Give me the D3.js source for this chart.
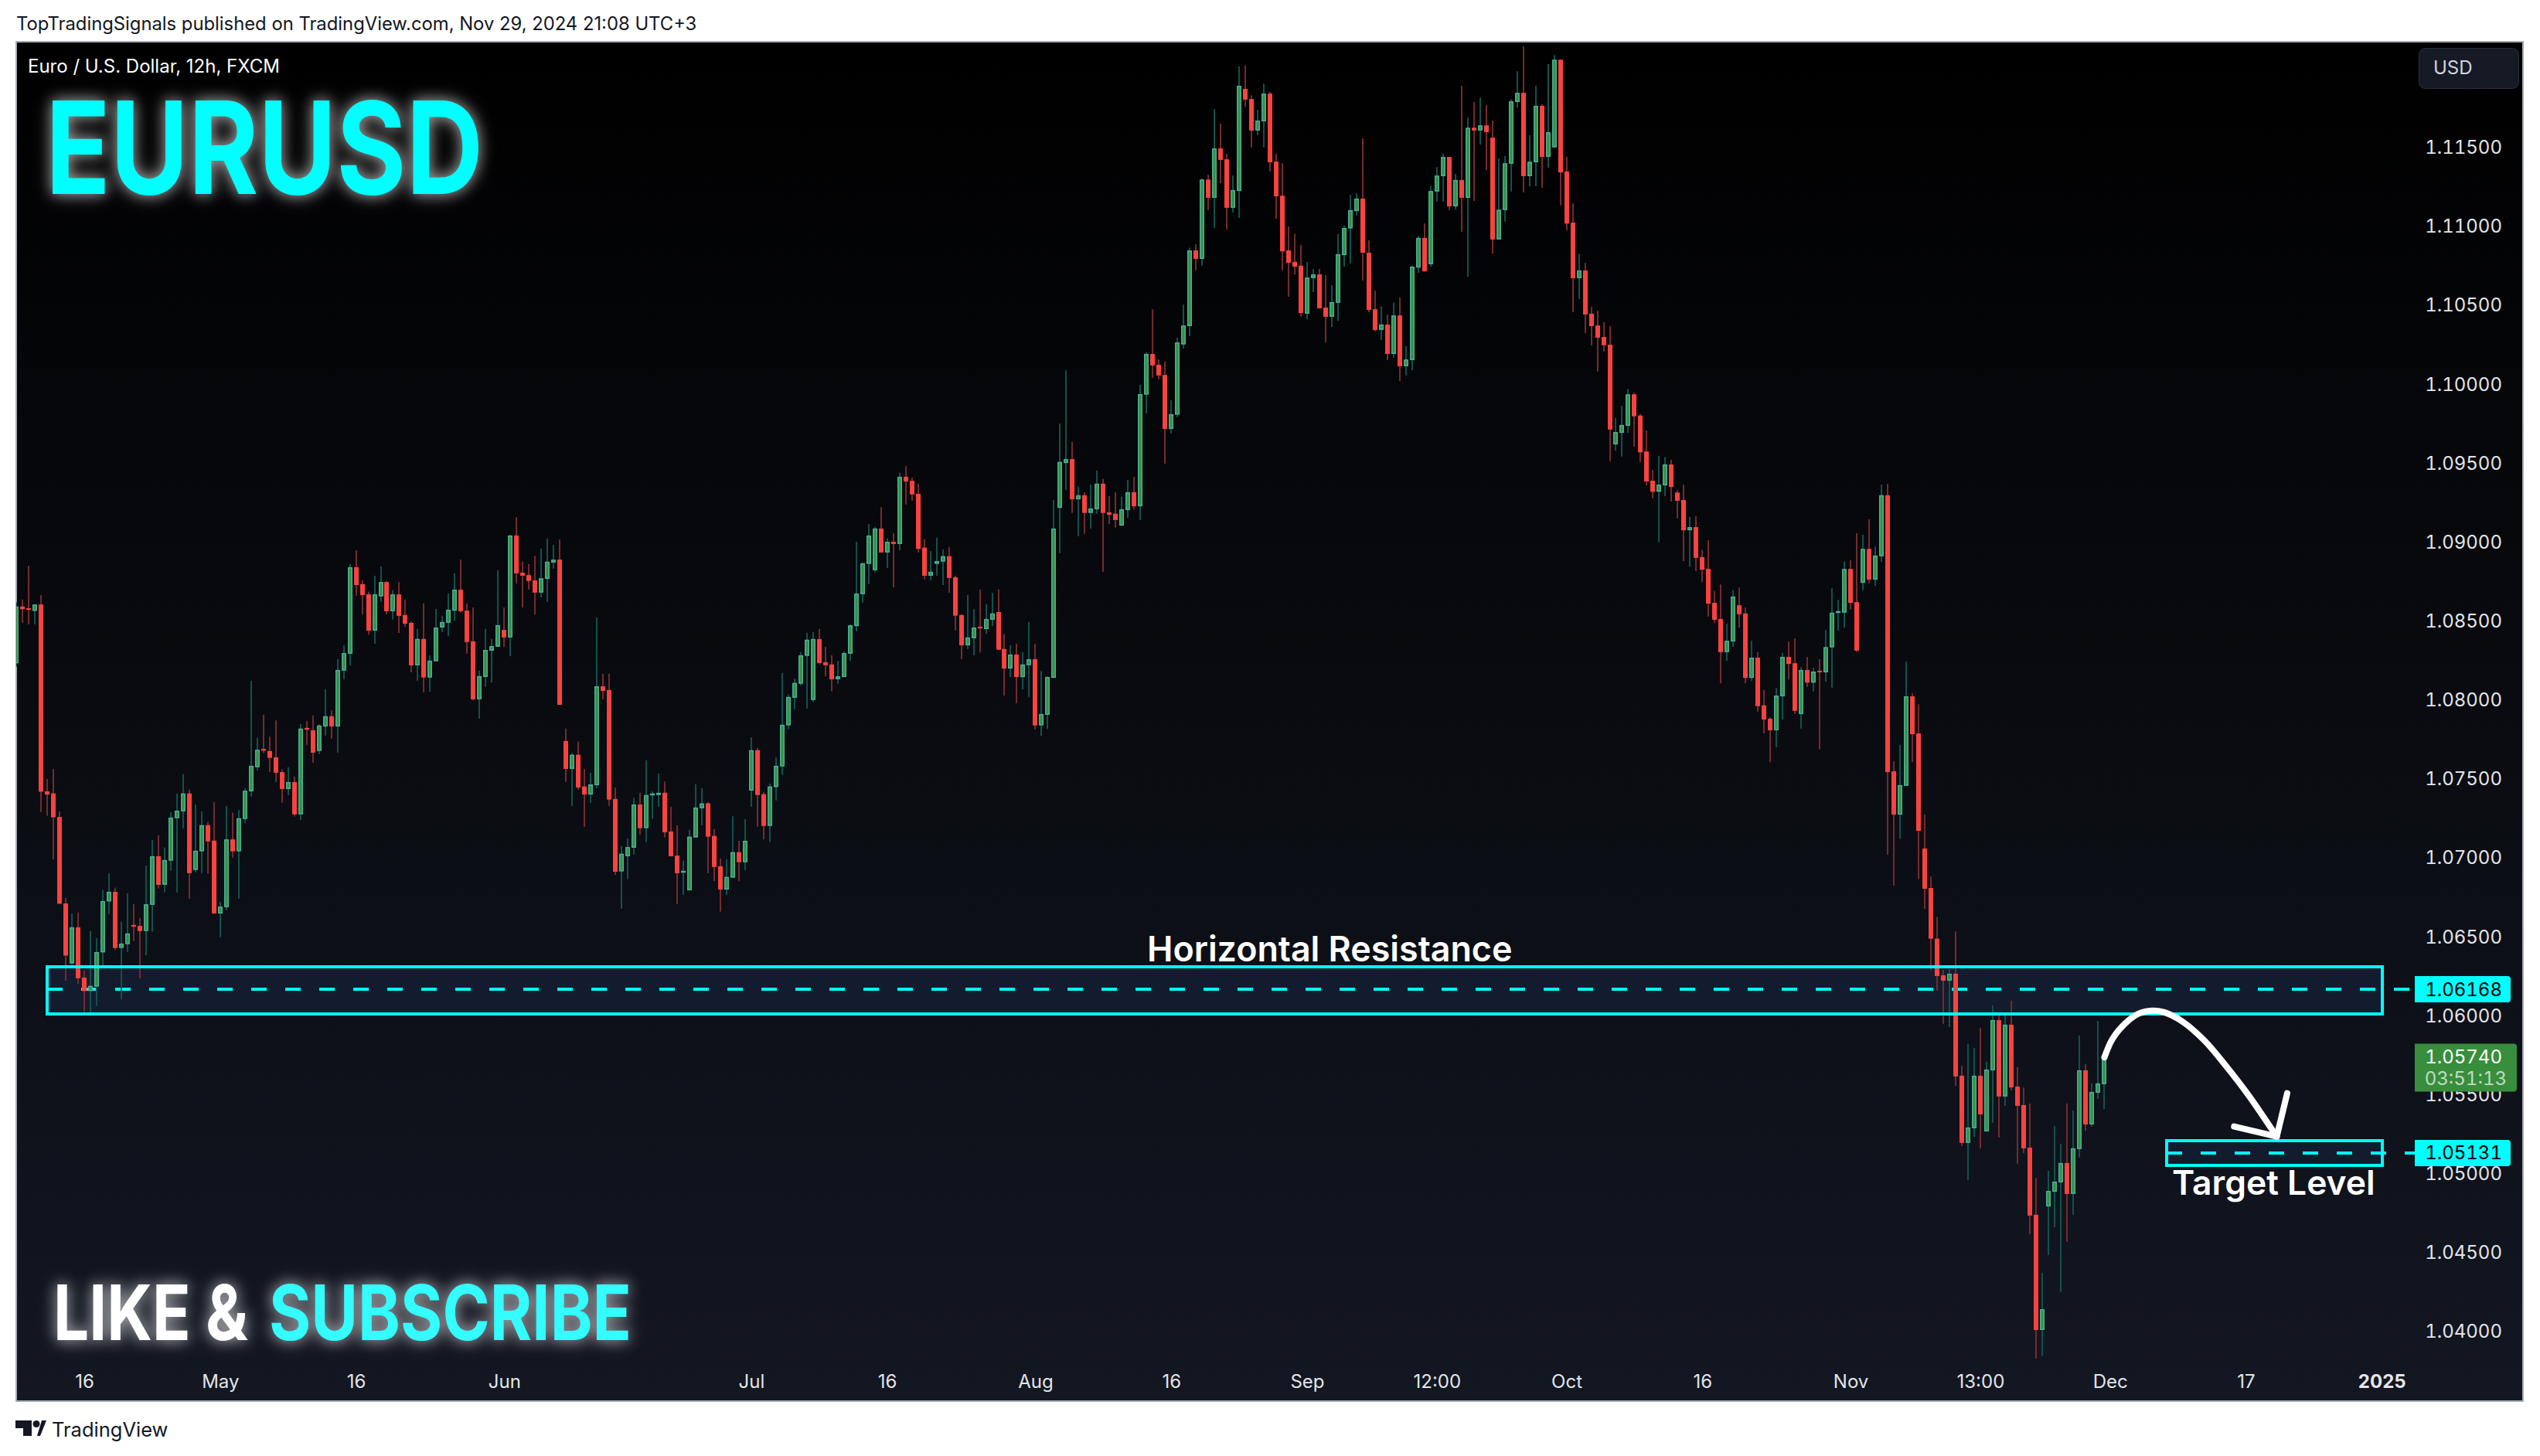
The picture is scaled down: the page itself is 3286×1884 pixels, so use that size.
<!DOCTYPE html>
<html>
<head>
<meta charset="utf-8">
<script src="https://cdn.jsdelivr.net/npm/d3@7"></script>
<style>
  html, body { margin: 0; padding: 0; background: #ffffff; }
  svg { display: block; font-family: Inter, "Noto Sans", sans-serif; }
  .price-axis text, .time-axis text { fill: #e4e5e8; font-size: 24px; font-family: Inter, sans-serif; }
  .price-axis text, .tag-text { font-variant-numeric: tabular-nums; }
  .time-axis text.year { font-weight: 700; }
  .glow-cyan { filter: drop-shadow(0 0 9px rgba(255,255,255,0.55)) drop-shadow(0 0 12px rgba(255,255,255,0.25)); }
</style>
</head>
<body>
<div id="chart"></div>
<script>
// EURUSD 12h candles
const highs = [
1.08619,1.08637,1.08851,1.08606,1.08665,1.07501,1.07564,1.07295,1.06747,1.06648,
1.06655,1.06288,1.06537,1.06493,1.06797,1.06904,1.06812,1.06596,1.06777,1.06707,
1.06620,1.06952,1.07114,1.07144,1.07066,1.07291,1.07409,1.07531,1.07433,1.07337,
1.07295,1.07228,1.07354,1.06723,1.07330,1.07287,1.07304,1.07442,1.08123,1.07761,
1.07907,1.07769,1.07872,1.07560,1.07575,1.07516,1.07848,1.07868,1.07903,1.07848,
1.08069,1.07935,1.08259,1.08348,1.08862,1.08949,1.08759,1.08687,1.08788,1.08847,
1.08755,1.08696,1.08748,1.08637,1.08499,1.08451,1.08613,1.08283,1.08578,1.08534,
1.08676,1.08803,1.08890,1.08613,1.08587,1.08187,1.08451,1.08388,1.08823,1.08587,
1.09048,1.09159,1.08877,1.08862,1.08914,1.08960,1.09024,1.08984,1.09017,1.07820,
1.07665,1.07737,1.07564,1.07540,1.08523,1.08167,1.08167,1.07446,1.07076,1.07123,
1.07381,1.07413,1.07619,1.07423,1.07535,1.07484,1.07324,1.07207,1.06983,1.07177,
1.07467,1.07442,1.07355,1.07184,1.06997,1.06992,1.07264,1.07109,1.07247,1.07765,
1.07697,1.07418,1.07472,1.07638,1.08172,1.08036,1.08137,1.08305,1.08427,1.08432,
1.08451,1.08338,1.08284,1.08249,1.08308,1.08479,1.09003,1.08872,1.09115,1.09097,
1.09223,1.09026,1.09057,1.09441,1.09483,1.09410,1.09371,1.09019,1.08944,1.09029,
1.08954,1.08970,1.08788,1.08544,1.08666,1.08577,1.08701,1.08607,1.08680,1.08701,
1.08420,1.08347,1.08357,1.08303,1.08495,1.08357,1.08184,1.08151,1.09268,1.09752,
1.10089,1.09635,1.09352,1.09317,1.09366,1.09455,1.09401,1.09293,1.09317,1.09289,
1.09394,1.09415,1.09998,1.10203,1.10476,1.10158,1.10145,1.09899,1.10296,1.10506,
1.10866,1.10888,1.11304,1.11328,1.11744,1.11652,1.11461,1.11323,1.12014,1.12020,
1.11832,1.11740,1.11905,1.11853,1.11461,1.11401,1.11001,1.10954,1.10883,1.10776,
1.10731,1.10731,1.10692,1.10628,1.10952,1.11006,1.11201,1.11210,1.11559,1.10913,
1.10594,1.10495,1.10442,1.10519,1.10551,1.10242,1.10752,1.10941,1.11019,1.11257,
1.11377,1.11461,1.11441,1.11334,1.11892,1.11690,1.11789,1.11817,1.11769,1.11671,
1.11431,1.11446,1.11806,1.11984,1.12141,1.11578,1.11892,1.11774,1.12029,1.12087,
1.12057,1.11441,1.11147,1.10828,1.10770,1.10491,1.10467,1.10394,1.10369,1.09788,
1.09865,1.09972,1.09947,1.09813,1.09708,1.09458,1.09548,1.09538,1.09523,1.09330,
1.09365,1.09161,1.09166,1.08953,1.09013,1.08691,1.08733,1.08484,1.08696,1.08713,
1.08586,1.08376,1.08304,1.08064,1.07892,1.08076,1.08299,1.08371,1.08391,1.08209,
1.08274,1.08206,1.08259,1.08446,1.08708,1.08636,1.08878,1.08886,1.09058,1.09048,
1.09146,1.08973,1.09365,1.09370,1.07612,1.07717,1.08244,1.08044,1.07974,1.07275,
1.06882,1.06626,1.06292,1.06296,1.06535,1.05684,1.05822,1.05797,1.05924,1.05709,
1.06066,1.06003,1.06006,1.06096,1.05675,1.05547,1.05445,1.04975,1.04372,1.05019,
1.05303,1.05190,1.05445,1.05400,1.05875,1.05694,1.05572,1.05968,1.05777];

const lows = [
1.08213,1.08490,1.08480,1.08480,1.07291,1.07267,1.06991,1.06710,1.06222,1.06314,
1.06203,1.06024,1.06015,1.06063,1.06303,1.06644,1.06417,1.06107,1.06404,1.06474,
1.06238,1.06384,1.06533,1.06806,1.06782,1.06919,1.06782,1.07188,1.06742,1.06909,
1.06904,1.06900,1.06648,1.06498,1.06668,1.07002,1.06742,1.07221,1.07389,1.07555,
1.07665,1.07544,1.07481,1.07350,1.07398,1.07263,1.07241,1.07717,1.07603,1.07658,
1.07776,1.07756,1.07667,1.08132,1.08220,1.08661,1.08543,1.08416,1.08357,1.08622,
1.08543,1.08510,1.08425,1.08464,1.08176,1.08123,1.08049,1.08053,1.08246,1.08431,
1.08405,1.08504,1.08554,1.08294,1.07999,1.07883,1.08084,1.08112,1.08338,1.08338,
1.08278,1.08740,1.08587,1.08700,1.08543,1.08650,1.08622,1.08833,1.07970,1.07481,
1.07330,1.07433,1.07197,1.07350,1.07442,1.08005,1.07330,1.06893,1.06678,1.06866,
1.07022,1.07149,1.07100,1.07247,1.07324,1.07130,1.07011,1.06709,1.06767,1.06795,
1.07130,1.07207,1.06903,1.06854,1.06660,1.06767,1.06875,1.06854,1.06924,1.07324,
1.07198,1.07118,1.07100,1.07364,1.07526,1.07814,1.07943,1.08092,1.07947,1.07989,
1.08226,1.08151,1.08055,1.08104,1.08146,1.08249,1.08436,1.08617,1.08734,1.08809,
1.08935,1.08837,1.08715,1.08949,1.09239,1.09263,1.08935,1.08764,1.08760,1.08788,
1.08729,1.08680,1.08441,1.08259,1.08324,1.08284,1.08303,1.08420,1.08469,1.08319,
1.08029,1.08146,1.07980,1.08069,1.08020,1.07814,1.07774,1.07818,1.08141,1.08930,
1.09331,1.09186,1.09038,1.09052,1.09087,1.09181,1.08813,1.09115,1.09092,1.09101,
1.09155,1.09209,1.09141,1.09817,1.10042,1.10032,1.09498,1.09690,1.09791,1.10227,
1.10306,1.10722,1.10752,1.11104,1.10991,1.11274,1.10982,1.11089,1.11055,1.11759,
1.11501,1.11578,1.11501,1.11349,1.11049,1.10722,1.10555,1.10697,1.10428,1.10413,
1.10585,1.10482,1.10266,1.10364,1.10403,1.10746,1.10767,1.11070,1.10658,1.10457,
1.10336,1.10281,1.10154,1.10169,1.10021,1.10057,1.10090,1.10707,1.10716,1.10746,
1.11158,1.11158,1.11104,1.11107,1.10967,1.10682,1.11162,1.11519,1.11358,1.10828,
1.10918,1.11031,1.11222,1.11754,1.11216,1.11255,1.11255,1.11246,1.11373,1.11501,
1.11134,1.10976,1.10457,1.10540,1.10324,1.10248,1.10081,1.10208,1.09513,1.09580,
1.09543,1.09693,1.09605,1.09508,1.09360,1.09278,1.09001,1.09293,1.09258,1.09151,
1.08881,1.08846,1.08818,1.08748,1.08529,1.08489,1.08106,1.08249,1.08336,1.08459,
1.08106,1.08121,1.07927,1.07789,1.07607,1.07702,1.07877,1.08131,1.07912,1.07819,
1.08084,1.08054,1.07687,1.08116,1.08079,1.08441,1.08459,1.08574,1.08304,1.08696,
1.08738,1.08723,1.08876,1.07020,1.06825,1.07122,1.07457,1.07607,1.06867,1.06678,
1.06287,1.06159,1.05949,1.05929,1.05557,1.05175,1.04960,1.05234,1.05161,1.05268,
1.05322,1.05229,1.05430,1.05528,1.05063,1.05131,1.04617,1.03829,1.03844,1.04485,
1.04661,1.04250,1.04568,1.04740,1.05102,1.05273,1.05298,1.05474,1.05410];

const opens = [
1.08233,1.08593,1.08582,1.08565,1.08606,1.07422,1.07409,1.07260,1.06712,1.06332,
1.06561,1.06242,1.06157,1.06185,1.06402,1.06725,1.06786,1.06430,1.06454,1.06576,
1.06570,1.06537,1.06703,1.07011,1.06830,1.06983,1.07252,1.07295,1.07409,1.06924,
1.07042,1.07208,1.07110,1.06648,1.06688,1.07118,1.07042,1.07247,1.07422,1.07575,
1.07691,1.07678,1.07638,1.07544,1.07437,1.07481,1.07276,1.07824,1.07809,1.07678,
1.07833,1.07898,1.07833,1.08187,1.08294,1.08842,1.08735,1.08670,1.08440,1.08657,
1.08748,1.08563,1.08670,1.08539,1.08490,1.08220,1.08388,1.08143,1.08246,1.08460,
1.08490,1.08567,1.08700,1.08567,1.08372,1.08005,1.08147,1.08313,1.08338,1.08445,
1.08397,1.09043,1.08807,1.08792,1.08759,1.08681,1.08768,1.08871,1.08890,1.07741,
1.07564,1.07654,1.07453,1.07402,1.07461,1.08088,1.08064,1.07374,1.06915,1.07011,
1.07065,1.07339,1.07189,1.07399,1.07399,1.07413,1.07168,1.07015,1.06908,1.06795,
1.07130,1.07315,1.07346,1.07140,1.06948,1.06800,1.06875,1.07037,1.06973,1.07427,
1.07683,1.07404,1.07203,1.07449,1.07580,1.07840,1.08015,1.08104,1.08280,1.08001,
1.08387,1.08240,1.08226,1.08132,1.08146,1.08294,1.08469,1.08671,1.08863,1.08823,
1.09087,1.08935,1.09003,1.08989,1.09415,1.09389,1.09307,1.08966,1.08788,1.08863,
1.08877,1.08912,1.08778,1.08539,1.08347,1.08392,1.08465,1.08450,1.08509,1.08558,
1.08324,1.08200,1.08289,1.08146,1.08221,1.08259,1.07840,1.07907,1.08141,1.09218,
1.09502,1.09527,1.09272,1.09298,1.09186,1.09209,1.09371,1.09190,1.09181,1.09106,
1.09204,1.09317,1.09228,1.09935,1.10193,1.10124,1.10060,1.09718,1.09808,1.10253,
1.10369,1.10849,1.10795,1.11298,1.11182,1.11495,1.11426,1.11119,1.11225,1.11872,
1.11808,1.11608,1.11666,1.11842,1.11411,1.11195,1.10849,1.10776,1.10752,1.10448,
1.10673,1.10697,1.10487,1.10428,1.10517,1.10819,1.10988,1.11098,1.11177,1.10834,
1.10476,1.10345,1.10379,1.10193,1.10437,1.10115,1.10154,1.10740,1.10928,1.10761,
1.11222,1.11319,1.11441,1.11128,1.11295,1.11182,1.11626,1.11608,1.11641,1.11563,
1.10918,1.11104,1.11398,1.11789,1.11847,1.11319,1.11407,1.11765,1.11441,1.11501,
1.12057,1.11349,1.11025,1.10673,1.10722,1.10448,1.10373,1.10300,1.10251,1.09620,
1.09693,1.09738,1.09937,1.09803,1.09575,1.09390,1.09320,1.09360,1.09493,1.09315,
1.09268,1.09076,1.09096,1.08906,1.08831,1.08616,1.08514,1.08304,1.08371,1.08601,
1.08549,1.08141,1.08269,1.07967,1.07882,1.07809,1.08024,1.08274,1.08234,1.07912,
1.08191,1.08111,1.08186,1.08176,1.08334,1.08554,1.08554,1.08831,1.08621,1.08743,
1.08958,1.08763,1.08911,1.09298,1.07549,1.07275,1.07457,1.08024,1.07789,1.07060,
1.06810,1.06489,1.06257,1.06223,1.06267,1.05621,1.05195,1.05288,1.05621,1.05268,
1.05655,1.05973,1.05489,1.05944,1.05552,1.05435,1.05165,1.04740,1.04010,1.04793,
1.04886,1.04945,1.05068,1.04872,1.05156,1.05655,1.05312,1.05513,1.05567];

const closes = [
1.08593,1.08576,1.08576,1.08606,1.07420,1.07402,1.07258,1.06710,1.06382,1.06561,
1.06238,1.06157,1.06190,1.06404,1.06727,1.06786,1.06430,1.06458,1.06522,1.06565,
1.06537,1.06707,1.07011,1.06830,1.06987,1.07256,1.07300,1.07409,1.06904,1.07046,
1.07208,1.07105,1.06648,1.06692,1.07118,1.07042,1.07252,1.07426,1.07584,1.07686,
1.07680,1.07634,1.07540,1.07437,1.07481,1.07276,1.07820,1.07813,1.07667,1.07839,
1.07898,1.07833,1.08191,1.08298,1.08842,1.08729,1.08665,1.08440,1.08670,1.08748,
1.08563,1.08670,1.08534,1.08484,1.08220,1.08388,1.08143,1.08250,1.08460,1.08495,
1.08573,1.08700,1.08563,1.08368,1.08005,1.08152,1.08318,1.08342,1.08475,1.08397,
1.09043,1.08803,1.08788,1.08755,1.08681,1.08772,1.08877,1.08890,1.07970,1.07564,
1.07654,1.07446,1.07402,1.07466,1.08088,1.08058,1.07370,1.06913,1.07027,1.07069,
1.07339,1.07189,1.07399,1.07409,1.07413,1.07163,1.07011,1.06903,1.06919,1.07135,
1.07320,1.07346,1.07135,1.06943,1.06800,1.06880,1.07037,1.06973,1.07109,1.07683,
1.07399,1.07203,1.07453,1.07584,1.07844,1.08020,1.08109,1.08284,1.08383,1.08387,
1.08235,1.08221,1.08132,1.08151,1.08298,1.08474,1.08675,1.08867,1.09043,1.09087,
1.08935,1.09003,1.08989,1.09415,1.09385,1.09303,1.08958,1.08788,1.08813,1.08881,
1.08912,1.08774,1.08535,1.08347,1.08397,1.08460,1.08455,1.08514,1.08549,1.08319,
1.08200,1.08289,1.08146,1.08226,1.08259,1.07840,1.07912,1.08146,1.09087,1.09509,
1.09527,1.09272,1.09298,1.09186,1.09214,1.09371,1.09186,1.09174,1.09141,1.09209,
1.09317,1.09228,1.09939,1.10193,1.10120,1.10057,1.09718,1.09811,1.10266,1.10373,
1.10849,1.10795,1.11298,1.11182,1.11495,1.11422,1.11119,1.11231,1.11892,1.11804,
1.11608,1.11671,1.11842,1.11407,1.11192,1.10843,1.10770,1.10746,1.10452,1.10677,
1.10697,1.10482,1.10428,1.10521,1.10825,1.10991,1.11104,1.11177,1.10834,1.10472,
1.10345,1.10379,1.10193,1.10437,1.10115,1.10158,1.10746,1.10928,1.10716,1.11225,
1.11323,1.11441,1.11128,1.11295,1.11182,1.11626,1.11608,1.11641,1.11598,1.10918,
1.11107,1.11401,1.11793,1.11847,1.11319,1.11411,1.11765,1.11441,1.11598,1.12057,
1.11343,1.11019,1.10673,1.10722,1.10443,1.10369,1.10296,1.10248,1.09714,1.09698,
1.09743,1.09937,1.09798,1.09570,1.09385,1.09320,1.09365,1.09493,1.09350,1.09263,
1.09076,1.09096,1.08901,1.08826,1.08611,1.08509,1.08304,1.08376,1.08656,1.08544,
1.08141,1.08269,1.07962,1.07877,1.07809,1.08029,1.08274,1.08229,1.07932,1.08191,
1.08111,1.08181,1.08176,1.08336,1.08554,1.08564,1.08831,1.08616,1.08314,1.08958,
1.08763,1.08916,1.09298,1.07544,1.07275,1.07462,1.08024,1.07784,1.07172,1.06805,
1.06489,1.06252,1.06223,1.06267,1.05616,1.05195,1.05293,1.05621,1.05376,1.05660,
1.05973,1.05489,1.05944,1.05547,1.05430,1.05161,1.04735,1.04010,1.04142,1.04891,
1.04950,1.05068,1.04872,1.05161,1.05655,1.05312,1.05518,1.05572,1.05740];

const priceTicks = [1.04,1.045,1.05,1.055,1.06,1.065,1.07,1.075,1.08,1.085,1.09,1.095,1.10,1.105,1.11,1.115];
const timeTickBars = [11,33,55,79,119,141,165,187,209,230,251,273,297,318,339,361,383];
const timeTickLabels = ["16","May","16","Jun","Jul","16","Aug","16","Sep","12:00","Oct","16","Nov","13:00","Dec","17","2025"];

// drawn zones and levels, in bars and prices
const resistanceZone = {bar0: 4.94, bar1: 383.1, top: 1.06311, bottom: 1.06014, level: 1.06168};
const targetZone = {bar0: 348.2, bar1: 383.1, top: 1.05209, bottom: 1.05053, level: 1.05131};
const levelLineEnd = 388.3;
const lastPrice = 1.05740;
const countdown = "03:51:13";

// hand drawn arrow, bar and price pairs
const arrowCurve = [[338.1,1.05737],[339.4,1.05854],[341.6,1.05957],[343.7,1.06015],[345.8,1.06033],[347.9,1.06021],
                    [350.8,1.05962],[354.3,1.05843],[357.8,1.05682],[361.4,1.05499],[366.0,1.05235]];
const arrowHead = [[367.7,1.05510],[366.0,1.05235],[359.1,1.05299]];

const WIDTH = 3286;
const HEIGHT = 1884;
const PLOT = {left: 21, top: 54, right: 3264, bottom: 1813};

const X_SCALE = d3.scaleLinear().domain([0, 338]).range([21.1, 2721.7]);
const Y_SCALE = d3.scaleLinear().domain([1.04, 1.115]).range([1723, 191]);
const snapX = (v) => Math.round(X_SCALE(v));
const snapY = (v) => Math.round(Y_SCALE(v));

const svg = d3.select("#chart").append("svg")
    .attr("width", WIDTH)
    .attr("height", HEIGHT);

const defs = svg.append("defs");
const grad = defs.append("linearGradient").attr("id", "bg")
    .attr("x1", 0).attr("x2", 0).attr("y1", 0).attr("y2", 1);
grad.append("stop").attr("offset", "0%").attr("stop-color", "#000000");
grad.append("stop").attr("offset", "100%").attr("stop-color", "#131722");
defs.append("clipPath").attr("id", "plot-clip").append("rect")
    .attr("x", PLOT.left).attr("y", PLOT.top)
    .attr("width", PLOT.right - PLOT.left).attr("height", PLOT.bottom - PLOT.top);

// header line
svg.append("text")
    .attr("x", 21).attr("y", 39)
    .attr("font-size", 23.8)
    .attr("fill", "#131722")
    .text("TopTradingSignals published on TradingView.com, Nov 29, 2024 21:08 UTC+3");

// plot frame
svg.append("rect")
    .attr("x", PLOT.left).attr("y", PLOT.top)
    .attr("width", PLOT.right - PLOT.left).attr("height", PLOT.bottom - PLOT.top)
    .attr("fill", "url(#bg)")
    .attr("stroke", "#a8abb3")
    .attr("stroke-width", 2);

const plot = svg.append("g").attr("clip-path", "url(#plot-clip)");

// zone fills and dashed levels sit under the candles
function zoneRect(parent, z) {
    return parent.append("rect")
        .attr("x", snapX(z.bar0))
        .attr("y", snapY(z.top))
        .attr("width", snapX(z.bar1) - snapX(z.bar0))
        .attr("height", snapY(z.bottom) - snapY(z.top));
}
[resistanceZone, targetZone].forEach((z) => {
    zoneRect(plot, z).attr("fill", "#131c2e");
    plot.append("line")
        .attr("x1", snapX(z.bar0)).attr("x2", snapX(levelLineEnd))
        .attr("y1", snapY(z.level)).attr("y2", snapY(z.level))
        .attr("stroke", "#00ffff")
        .attr("stroke-width", 4)
        .attr("stroke-dasharray", "20 24");
});

// candles
const bars = d3.range(closes.length);
const isUp = (i) => closes[i] >= opens[i];
const barX = (i) => Math.round(X_SCALE(i));

plot.selectAll(".wick").data(bars).enter().append("rect")
    .attr("class", "wick")
    .attr("x", (i) => barX(i) - 1)
    .attr("y", (i) => Y_SCALE(highs[i]))
    .attr("width", 2)
    .attr("height", (i) => Y_SCALE(lows[i]) - Y_SCALE(highs[i]))
    .attr("fill", (i) => isUp(i) ? "#12514c" : "#762a2d");

plot.selectAll(".body").data(bars).enter().append("rect")
    .attr("class", "body")
    .attr("x", (i) => barX(i) - (isUp(i) ? 2.25 : 3))
    .attr("y", (i) => Y_SCALE(Math.max(opens[i], closes[i])) + (isUp(i) ? 0.75 : 0))
    .attr("width", (i) => isUp(i) ? 4.5 : 6)
    .attr("height", (i) => {
        let h = Y_SCALE(Math.min(opens[i], closes[i])) - Y_SCALE(Math.max(opens[i], closes[i]));
        return isUp(i) ? Math.max(h - 1.5, 1) : Math.max(h, 2);
    })
    .attr("fill", (i) => isUp(i) ? "#38903f" : "#f9433f")
    .attr("stroke", (i) => isUp(i) ? "#49b09a" : "none")
    .attr("stroke-width", 1.5);

// zone outlines go over the candles
[resistanceZone, targetZone].forEach((z) => {
    zoneRect(plot, z)
        .attr("fill", "none")
        .attr("stroke", "#00ffff")
        .attr("stroke-width", 4);
});

// arrow
const arrowLine = d3.line()
    .x((d) => X_SCALE(d[0]))
    .y((d) => Y_SCALE(d[1]));
plot.append("path")
    .attr("d", arrowLine.curve(d3.curveCatmullRom)(arrowCurve))
    .attr("fill", "none").attr("stroke", "#ffffff")
    .attr("stroke-width", 8).attr("stroke-linecap", "round");
plot.append("path")
    .attr("d", arrowLine.curve(d3.curveLinear)(arrowHead))
    .attr("fill", "none").attr("stroke", "#ffffff")
    .attr("stroke-width", 8).attr("stroke-linecap", "round").attr("stroke-linejoin", "round");

// annotation labels
svg.append("text")
    .attr("x", 1484).attr("y", 1244)
    .attr("font-size", 44.8).attr("font-weight", 600)
    .attr("fill", "#ffffff")
    .text("Horizontal Resistance");
svg.append("text")
    .attr("x", 2810).attr("y", 1546)
    .attr("font-size", 44.4).attr("font-weight", 600)
    .attr("fill", "#ffffff")
    .text("Target Level");

// legend line
svg.append("text")
    .attr("x", 36).attr("y", 94)
    .attr("font-size", 24)
    .attr("fill", "#ffffff")
    .text("Euro / U.S. Dollar, 12h, FXCM");

// big titles
svg.append("text")
    .attr("class", "glow-cyan")
    .attr("x", 59).attr("y", 251)
    .attr("font-size", 166).attr("font-weight", 700)
    .attr("fill", "#00ffff")
    .attr("textLength", 566).attr("lengthAdjust", "spacingAndGlyphs")
    .text("EURUSD");

const callout = svg.append("g").attr("class", "glow-cyan")
    .attr("font-size", 99).attr("font-weight", 700);
callout.append("text").attr("x", 69).attr("y", 1734)
    .attr("fill", "#ffffff")
    .attr("textLength", 252).attr("lengthAdjust", "spacingAndGlyphs")
    .text("LIKE &");
callout.append("text").attr("x", 348).attr("y", 1734)
    .attr("fill", "#33fdff")
    .attr("textLength", 469).attr("lengthAdjust", "spacingAndGlyphs")
    .text("SUBSCRIBE");

// axes
svg.append("g").attr("class", "price-axis")
    .attr("transform", "translate(3237,0)")
    .call(d3.axisRight(Y_SCALE).tickValues(priceTicks).tickSize(0).tickPadding(0)
        .tickFormat((d) => d.toFixed(5)))
    .call((g) => g.select(".domain").remove())
    .selectAll("text").attr("text-anchor", "end");

svg.append("g").attr("class", "time-axis")
    .attr("transform", "translate(0,1779)")
    .call(d3.axisBottom(X_SCALE).tickValues(timeTickBars).tickSize(0).tickPadding(0)
        .tickFormat((d, i) => timeTickLabels[i]))
    .call((g) => g.select(".domain").remove())
    .selectAll("text")
    .classed("year", (d, i) => timeTickLabels[i] === "2025");

// price labels on the right
function priceTag(price, w, h, fill) {
    const y0 = snapY(price) - h / 2;
    const x0 = 3124;
    return svg.append("path")
        .attr("d", `M${x0},${y0}H${x0 + w - 4}a4,4 0 0 1 4,4V${y0 + h - 4}a4,4 0 0 1 -4,4H${x0}Z`)
        .attr("fill", fill);
}
[resistanceZone.level, targetZone.level].forEach((p) => {
    priceTag(p, 124, 34, "#00ffff");
    svg.append("text")
        .attr("class", "tag-text")
        .attr("x", 3237).attr("y", Y_SCALE(p)).attr("dy", "0.35em")
        .attr("text-anchor", "end").attr("font-size", 24)
        .attr("fill", "#000000")
        .text(p.toFixed(5));
});

const tagTop = Y_SCALE(lastPrice) - 17;
svg.append("path")
    .attr("d", `M3124,${tagTop}H3252a4,4 0 0 1 4,4V${tagTop + 58}a4,4 0 0 1 -4,4H3124Z`)
    .attr("fill", "#388e3c");
svg.append("text")
    .attr("class", "tag-text")
    .attr("x", 3237).attr("y", Y_SCALE(lastPrice)).attr("dy", "0.35em")
    .attr("text-anchor", "end").attr("font-size", 24).attr("fill", "#ffffff")
    .text(lastPrice.toFixed(5));
svg.append("text")
    .attr("class", "tag-text")
    .attr("x", 3243).attr("y", Y_SCALE(lastPrice) + 28).attr("dy", "0.35em")
    .attr("text-anchor", "end").attr("font-size", 24).attr("fill", "#ffffff").attr("fill-opacity", 0.7)
    .text(countdown);

// currency button
svg.append("rect")
    .attr("x", 3129.5).attr("y", 62.5).attr("width", 129).attr("height", 52).attr("rx", 8)
    .attr("fill", "#161a25").attr("stroke", "#2a2e39");
svg.append("text")
    .attr("x", 3148).attr("y", 88).attr("dy", "0.35em")
    .attr("font-size", 24).attr("fill", "#d1d4dc")
    .text("USD");

// footer logo
const logo = svg.append("g").attr("fill", "#131722");
logo.append("path").attr("d", "M20,1838H41V1858H30V1848H20Z");
logo.append("circle").attr("cx", 47).attr("cy", 1842.5).attr("r", 4.5);
logo.append("path").attr("d", "M48,1858L54,1838H60L52,1858Z");
svg.append("text")
    .attr("x", 67).attr("y", 1859)
    .attr("font-size", 25.5)
    .attr("fill", "#131722")
    .text("TradingView");
</script>
</body>
</html>
